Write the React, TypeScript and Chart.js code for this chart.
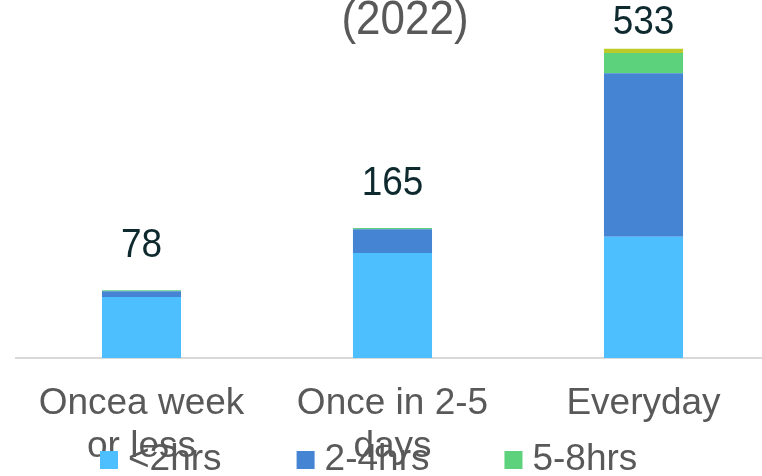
import React, { useEffect, useRef } from "react";
import { Chart, registerables } from "chart.js";

Chart.register(...registerables);

const CATEGORIES: (string | string[])[] = [["Oncea week", "or less"], ["Once in 2-5", "days"], "Everyday"];
const SERIES_NAMES = ["<2hrs", "2-4hrs", "5-8hrs", ">8hrs"];
const SERIES_COLORS = ["#4DBFFE", "#4584D3", "#5BD27B", "#BCCB2A"];
const LESS_2 = [105, 181, 209];
const H2_4 = [10, 41, 282];
const H5_8 = [2, 2, 35];
const OVER_8 = [0, 0, 7];
const TOTAL_LABELS = ["78", "165", "533"];
const TITLE = "(2022)";
const Y_MAX = 600;

const FONT = "Arial, 'Liberation Sans', sans-serif";
const GREY = "#595959";

const titlePlugin = {
  id: "topTitle",
  afterDraw(chart: any) {
    const { ctx, width } = chart;
    ctx.save();
    ctx.font = `44px ${FONT}`;
    ctx.fillStyle = GREY;
    ctx.textAlign = "center";
    ctx.textBaseline = "alphabetic";
    ctx.translate(width / 2, 34);
    ctx.scale(1, 1.1);
    ctx.fillText(TITLE, 0, 0);
    ctx.restore();
  },
};

const totalsPlugin = {
  id: "totals",
  afterDatasetsDraw(chart: any) {
    const { ctx } = chart;
    const meta = chart.getDatasetMeta(chart.data.datasets.length - 1);
    ctx.save();
    ctx.font = `37px ${FONT}`;
    ctx.fillStyle = "#0E2A2F";
    ctx.textAlign = "center";
    ctx.textBaseline = "alphabetic";
    meta.data.forEach((el: any, i: number) => {
      const y = Math.max(el.y - 33, 34);
      ctx.save();
      ctx.translate(el.x, y);
      ctx.scale(1, 1.08);
      ctx.fillText(TOTAL_LABELS[i], 0, 0);
      ctx.restore();
    });
    ctx.restore();
  },
};

const legendPlugin = {
  id: "customLegend",
  afterDraw(chart: any) {
    const { ctx } = chart;
    const startX = 100;
    const maxRight = 700;
    const box = 18;
    const gap = 10;
    const spacing = 75;
    let x = startX;
    let y = 460;
    ctx.save();
    ctx.font = `37px ${FONT}`;
    ctx.textAlign = "left";
    ctx.textBaseline = "middle";
    chart.data.datasets.forEach((ds: any) => {
      const tw = ctx.measureText(ds.label).width;
      const w = box + gap + tw;
      if (x !== startX && x + w > maxRight) {
        x = startX;
        y += 43;
      }
      ctx.fillStyle = ds.backgroundColor;
      ctx.fillRect(x, y - box / 2, box, box);
      ctx.fillStyle = GREY;
      ctx.fillText(ds.label, x + box + gap, y);
      x += w + spacing;
    });
    ctx.restore();
  },
};

export default function App() {
  const canvasRef = useRef<HTMLCanvasElement | null>(null);

  useEffect(() => {
    if (!canvasRef.current) return;
    const seriesValues = [LESS_2, H2_4, H5_8, OVER_8];
    const chart = new Chart(canvasRef.current, {
      type: "bar",
      data: {
        labels: CATEGORIES as any,
        datasets: seriesValues.map((vals, i) => ({
          label: SERIES_NAMES[i],
          data: vals,
          backgroundColor: SERIES_COLORS[i],
          borderWidth: 0,
          barPercentage: 0.315,
          categoryPercentage: 1,
        })),
      },
      options: {
        responsive: false,
        maintainAspectRatio: false,
        animation: false,
        devicePixelRatio: 1,
        layout: { padding: { top: 10, left: 16, right: 41, bottom: 0 } },
        plugins: {
          legend: { display: false },
          title: { display: false },
          tooltip: { enabled: false },
        },
        scales: {
          x: {
            stacked: true,
            grid: { display: false, drawTicks: false },
            border: { display: true, color: "#D9D9D9", width: 2 },
            ticks: {
              color: GREY,
              font: { family: FONT, size: 37, lineHeight: 1.16 },
              padding: 24,
              maxRotation: 0,
              minRotation: 0,
              autoSkip: false,
            },
            afterFit(scale: any) {
              scale.height = 202;
            },
          },
          y: { stacked: true, display: false, min: 0, max: Y_MAX },
        },
      },
      plugins: [titlePlugin, totalsPlugin, legendPlugin],
    });
    return () => chart.destroy();
  }, []);

  return (
    <div
      style={{
        position: "absolute",
        left: 0,
        top: 0,
        width: 762,
        height: 476,
        overflow: "hidden",
        background: "#ffffff",
      }}
    >
      <canvas ref={canvasRef} width={810} height={560} style={{ display: "block" }} />
    </div>
  );
}
